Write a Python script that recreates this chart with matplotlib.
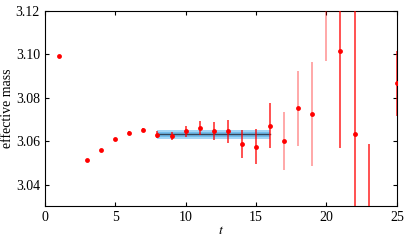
import numpy as np
import matplotlib
matplotlib.use("Agg")
import matplotlib.pyplot as plt

plt.rcParams['font.family'] = ['Liberation Serif', 'DejaVu Serif']
plt.rcParams['mathtext.fontset'] = 'stix'

# effective mass data
t = [1, 3, 4, 5, 6, 7, 8, 9, 10, 11, 12, 13, 14, 15, 16, 17, 18, 19, 20, 21, 22, 23, 25]
meff = [3.0992, 3.0513, 3.0561, 3.0611, 3.0638, 3.0653, 3.0630, 3.0624, 3.0645, 3.0659,
        3.0648, 3.0645, 3.0587, 3.0575, 3.0671, 3.0602, 3.0751, 3.0725, 3.1350, 3.1016,
        3.0632, 3.0200, 3.0867]
err = [0.0005, 0.0005, 0.0005, 0.0006, 0.0007, 0.0008, 0.0015, 0.0019, 0.0025, 0.0032,
       0.0041, 0.0051, 0.0064, 0.0079, 0.0104, 0.0133, 0.0174, 0.0239, 0.0383, 0.0446,
       0.0700, 0.0389, 0.0150]
light = [17, 18, 19, 20]

# plateau fit
fit_range = [8, 16]
fit_value = 3.0631
fit_err = 0.0019

fig, ax = plt.subplots(figsize=(4.07, 2.4), dpi=100)

ax.fill_between(fit_range, fit_value - fit_err, fit_value + fit_err,
                color='#a3d6f6', lw=0, zorder=1)
ax.fill_between(fit_range, fit_value - 0.55 * fit_err, fit_value + 0.55 * fit_err,
                color='#72bdec', lw=0, zorder=1)
ax.plot(fit_range, [fit_value, fit_value], color='#33475b', lw=1.0, zorder=2)

for ti, m, e in zip(t, meff, err):
    a = 0.4 if ti in light else 0.8
    ax.errorbar(ti, m, yerr=e, fmt='none', ecolor='red', elinewidth=1.2,
                alpha=a, zorder=3)
ax.plot(t, meff, 'o', color='red', ms=3.5, mew=0, zorder=4)

ax.set_xlim(0, 25)
ax.set_ylim(3.03, 3.12)
ax.set_xticks([0, 5, 10, 15, 20, 25])
ax.set_yticks([3.04, 3.06, 3.08, 3.10, 3.12])
ax.set_yticklabels(['3.04', '3.06', '3.08', '3.10', '3.12'])
ax.tick_params(direction='in', top=True, right=True, labelsize=10, length=3)
ax.set_xlabel('$t$', fontsize=10, labelpad=0)
ax.set_ylabel('effective mass', fontsize=10, labelpad=1)

plt.subplots_adjust(left=0.11, right=0.975, top=0.955, bottom=0.14)
plt.savefig('out.png', dpi=100)
